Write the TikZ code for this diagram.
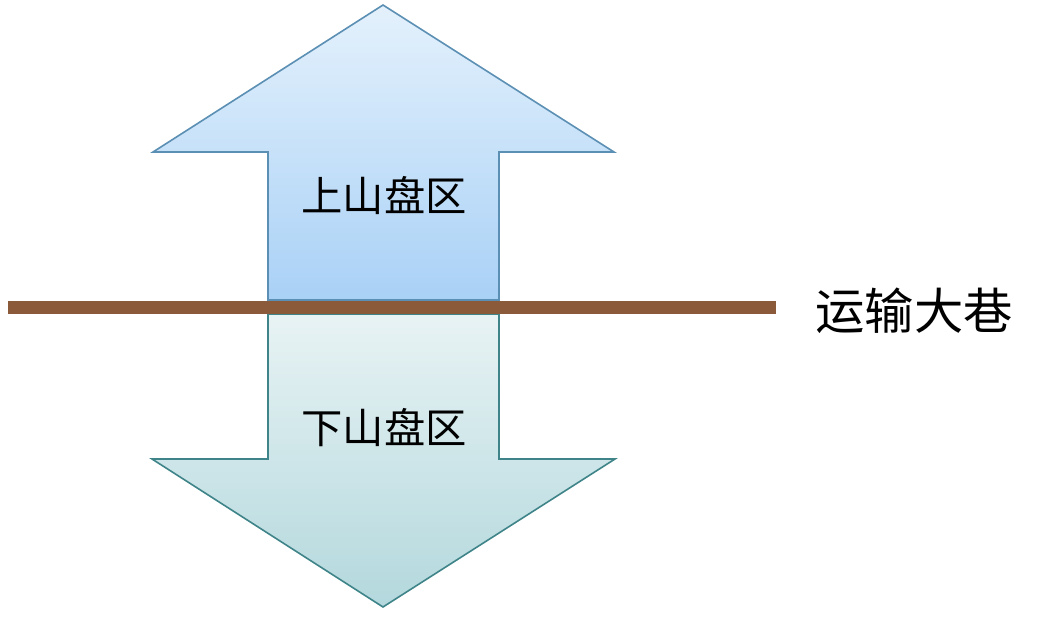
\documentclass[tikz,border=0pt]{standalone}
\usepackage{fontspec}
\newfontfamily\cjk{Noto Sans CJK SC}
\definecolor{upTop}{HTML}{E4F1FC}
\definecolor{upBot}{HTML}{A9D1F6}
\definecolor{upLine}{HTML}{5B8FB3}
\definecolor{dnTop}{HTML}{E8F3F4}
\definecolor{dnBot}{HTML}{B3D8DD}
\definecolor{dnLine}{HTML}{3F8488}
\definecolor{road}{HTML}{8B5A3A}
\tikzset{
  uparrow/.style={draw=upLine, line width=1.2pt, top color=upTop, bottom color=upBot, line join=miter},
  downarrow/.style={draw=dnLine, line width=1.2pt, top color=dnTop, bottom color=dnBot, line join=miter},
  roadline/.style={draw=road, line width=9.5pt},
  lbl/.style={font=\cjk\fontsize{31}{36}\selectfont, inner sep=0pt},
  biglbl/.style={font=\cjk\fontsize{37}{42}\selectfont, inner sep=0pt}
}
\begin{document}
\begin{tikzpicture}[x=0.75pt, y=-0.75pt]
\useasboundingbox (0,0) rectangle (1058,619);
% down arrow
\path[downarrow] (268,314) -- (499,314) -- (499,459) -- (615,459) -- (383,607) -- (152,459) -- (268,459) -- cycle;
% up arrow
\path[uparrow] (383,5) -- (614,152) -- (499,152) -- (499,300) -- (268,300) -- (268,152) -- (153,152) -- cycle;
% road
\coordinate (rl) at (8,307.5);
\coordinate (rr) at (776,307.5);
\draw[roadline] (rl) -- (rr);
\node[lbl] (up) at (384,195) {上山盘区};
\node[lbl] (dn) at (384,428) {下山盘区};
\node[biglbl] (road) at (914,311) {运输大巷};
\end{tikzpicture}
\end{document}
